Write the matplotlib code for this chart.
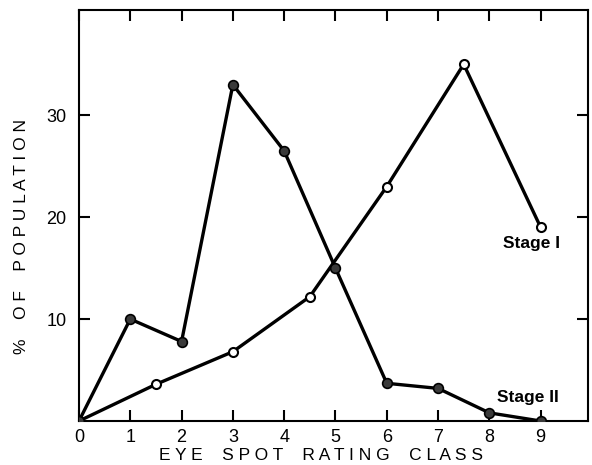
import matplotlib
matplotlib.use("Agg")
import matplotlib.pyplot as plt

plt.rcParams['font.family'] = ['Liberation Sans', 'DejaVu Sans']

stage1_x = [0, 1.5, 3, 4.5, 6, 7.5, 9]
stage1_y = [0, 3.6, 6.8, 12.2, 23.0, 35.0, 19.0]
stage2_x = [0, 1, 2, 3, 4, 5, 6, 7, 8, 9]
stage2_y = [0, 10.0, 7.8, 33.0, 26.5, 15.0, 3.7, 3.2, 0.8, 0]

x_ticks = [0, 1, 2, 3, 4, 5, 6, 7, 8, 9]
y_ticks = [10, 20, 30]

fig = plt.figure(figsize=(5.92, 4.65), dpi=100)
ax = fig.add_axes([0.1334, 0.0946, 0.8596, 0.8834])

ax.plot(stage1_x, stage1_y, color='black', lw=2.4, marker='o', ms=6.5,
        mfc='white', mec='black', mew=1.5, zorder=3)
ax.plot(stage2_x, stage2_y, color='black', lw=2.4, marker='o', ms=7,
        mfc='#3a3a3a', mec='black', mew=1.2, zorder=3)

ax.set_xlim(0, 9.92)
ax.set_ylim(0, 40.3)
ax.set_xticks(x_ticks)
ax.set_yticks(y_ticks)
ax.set_xticklabels([str(v) for v in x_ticks], fontsize=13)
ax.set_yticklabels([str(v) for v in y_ticks], fontsize=13)
ax.tick_params(direction='in', length=8, width=1.5, top=True, right=True)
ax.tick_params(axis='x', pad=6)
ax.tick_params(axis='y', pad=9)
for s in ax.spines.values():
    s.set_linewidth(1.5)

ax.text(8.26, 17.45, 'Stage I', fontsize=12.5, fontweight='bold', ha='left', va='center')
ax.text(8.15, 2.35, 'Stage II', fontsize=12.5, fontweight='bold', ha='left', va='center')

fig.text(321/592, 1 - 455/465, 'E Y E    S P O T    R A T I N G    C L A S S',
         fontsize=12.5, ha='center', va='center')
fig.text(22/592, 1 - 236/465, '%    O F    P O P U L A T I O N',
         fontsize=12.5, ha='center', va='center', rotation=90)

fig.savefig('out.png', dpi=100)
